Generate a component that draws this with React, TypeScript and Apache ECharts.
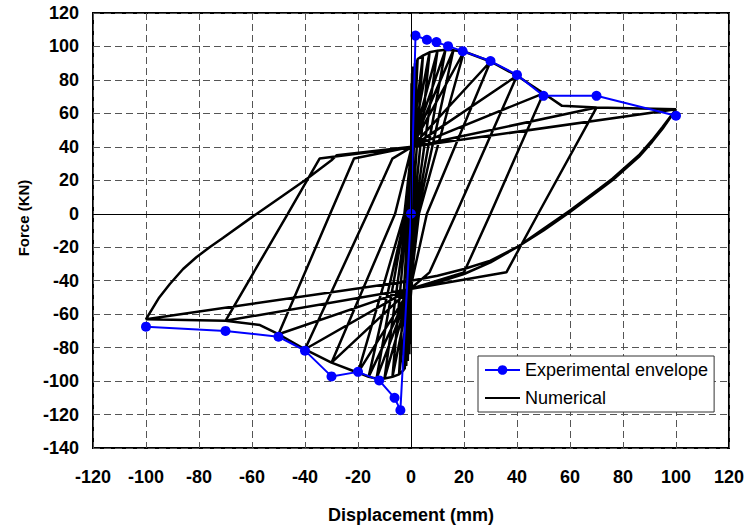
import React, { useEffect, useRef } from "react";
import * as echarts from "echarts";

// Experimental envelope (displacement mm, force kN)
const envDisp = [-100, -70, -50, -40, -30, -20, -12, -6.2, -4, 0, 1.7, 6, 9.6, 14, 19.5, 30, 40, 50, 70, 100];
const envForce = [-67.5, -70, -73.5, -81.8, -97.2, -94.5, -99.6, -110, -117.4, 0, 106.5, 104, 102.6, 100.2, 97.2, 91.3, 83, 70.5, 70.5, 58.6];

// Numerical hysteresis, read cycle by cycle
const numSmall: number[][] = [
  [0, 0], [0.2, 78], [-0.3, -78], [0.4, 84], [-0.6, -84], [0.8, 88], [-1.2, -88], [1.5, 90], [-1.8, -91],
  [2.2, 92], [-2.4, -93], [0.4, -40], [0.4, 40], [2.5, 92.5], [-2.8, -93.5],
];
const num5: number[][] = [[-0.5, 0], [0.3, 40], [2.5, 92.5], [4.5, 94.5], [0.5, 0], [-0.3, -45], [-2.8, -93.5], [-4.5, -96]];
const num7: number[][] = [[-1, 0], [0.3, 40], [4.5, 94.5], [7, 96.5], [1, 0], [-0.3, -45], [-4.5, -96], [-7, -97.5]];
const num10: number[][] = [[-1.5, 0], [0.3, 40], [7, 96.5], [10, 97.5], [1.5, 0], [-0.3, -45], [-7, -97.5], [-10, -98.5]];
const num13: number[][] = [[-1.5, 0], [0.3, 40], [10, 97.5], [13, 98], [2, 0], [-0.3, -45], [-10, -98.5], [-13, -98.5]];
const num16: number[][] = [[-2, 0], [0.3, 40], [13, 98], [16, 97.8], [2.5, 0], [-0.3, -45], [-13, -98.5], [-16, -97.5]];
const num20: number[][] = [[-2, 0], [0.3, 40], [16, 97.8], [20, 97], [3, 0], [-0.3, -45], [-16, -97.5], [-20, -95]];
const num30: number[][] = [[-2.5, 0], [0.3, 40], [20, 97], [30, 91], [6, 0], [-0.3, -45], [-20, -95], [-30, -89]];
const num40: number[][] = [[-6, 0], [0.3, 40], [30, 91], [40, 82.5], [17, 0], [7, -35], [-0.3, -45], [-30, -89], [-40, -81]];
const num50: number[][] = [[-16.4, 0], [-7, 33], [0.3, 40], [40, 82.5], [50, 72], [30, 0], [20, -35], [-0.3, -45], [-40, -81], [-50, -72]];
const num70: number[][] = [[-30.5, 0], [-21.5, 33], [0.3, 40], [50, 72], [57, 64.5], [70, 63.5], [48, 0], [36, -35], [-0.3, -45], [-50, -72], [-57, -66.5], [-70, -64]];
const num100a: number[][] = [
  [-46.5, 0], [-34.5, 33], [0.3, 40], [70, 63.5], [100, 62.5],
  [95, 52], [91, 44], [86, 35], [81, 28], [76, 21], [71, 15], [60, 2], [50, -9], [40, -20], [30, -29], [20, -36], [10, -41], [-0.3, -45],
  [-70, -64], [-100, -63],
];
const num100b: number[][] = [
  [-95, -50], [-91, -42], [-86, -33], [-81, -26], [-76, -20], [-71, -14.5], [-60, -2], [-50, 9], [-40, 20], [-30, 32], [-28, 35], [0.3, 40], [100, 62.5],
  [95, 51], [91, 43], [86, 34], [81, 27], [76, 20], [71, 14], [60, 1], [50, -10], [40, -20], [30, -28], [20, -33], [10, -37], [0, -40], [-100, -63],
];

const xTicks = { min: -120, max: 120, step: 20 };
const yTicks = { min: -140, max: 120, step: 20 };

const FONT = "'Liberation Sans', Arial, sans-serif";

export default function App() {
  const ref = useRef<HTMLDivElement>(null);
  useEffect(() => {
    if (!ref.current) return;
    const chart = echarts.init(ref.current, undefined, { renderer: "svg" });
    const numerical = [
      ...numSmall, ...num5, ...num7, ...num10, ...num13, ...num16, ...num20,
      ...num30, ...num40, ...num50, ...num70, ...num100a, ...num100b,
    ];
    const envelope = envDisp.map((d, i) => [d, envForce[i]]);
    const split = { show: true, lineStyle: { type: [7, 4], color: "#555", width: 1 } };
    const label = { fontSize: 18, fontWeight: "bold", color: "#000", fontFamily: FONT };
    chart.setOption({
      animation: false,
      backgroundColor: "#fff",
      grid: { left: 93, right: 17, top: 13, bottom: 78, show: true, borderColor: "#000", borderWidth: 2 },
      xAxis: {
        type: "value", min: xTicks.min, max: xTicks.max, interval: xTicks.step,
        axisLine: { show: false }, axisTick: { show: false }, splitLine: split,
        axisLabel: { ...label, margin: 20 },
        name: "Displacement (mm)", nameLocation: "middle", nameGap: 58,
        nameTextStyle: { ...label },
      },
      yAxis: {
        type: "value", min: yTicks.min, max: yTicks.max, interval: yTicks.step,
        axisLine: { show: false }, axisTick: { show: false }, splitLine: split,
        axisLabel: { ...label, margin: 14 },
      },
      graphic: [
        {
          type: "text", x: 23, y: 218, rotation: Math.PI / 2,
          style: { text: "Force (KN)", font: `bold 15px ${FONT}`, fill: "#000", textAlign: "center", textVerticalAlign: "middle" },
        },
      ],
      legend: {
        orient: "vertical", left: 478, top: 356, padding: [5, 6, 5, 6], itemGap: 10,
        itemWidth: 35, itemHeight: 12, borderColor: "#333", borderWidth: 1, backgroundColor: "#fff",
        textStyle: { fontSize: 18, fontFamily: FONT, color: "#000" },
        data: [
          { name: "Experimental envelope" },
          { name: "Numerical", itemStyle: { color: "rgba(0,0,0,0)", borderWidth: 0, opacity: 0 } },
        ],
      },
      series: [
        {
          name: "Numerical", type: "line", data: numerical, showSymbol: false, symbol: "none",
          lineStyle: { color: "#000", width: 2.5 }, itemStyle: { color: "#000" }, z: 2,
          markLine: {
            silent: true, symbol: ["none", "none"], label: { show: false },
            lineStyle: { color: "#000", type: "solid", width: 1 },
            data: [{ xAxis: 0 }, { yAxis: 0 }],
          },
        },
        {
          name: "Experimental envelope", type: "line", data: envelope, symbol: "circle", symbolSize: 10,
          lineStyle: { color: "#0000ff", width: 2 }, itemStyle: { color: "#0000ff" }, z: 3,
        },
      ],
    });
    return () => chart.dispose();
  }, []);
  return <div ref={ref} style={{ width: 747, height: 529, position: "absolute", left: 0, top: 0 }} />;
}
